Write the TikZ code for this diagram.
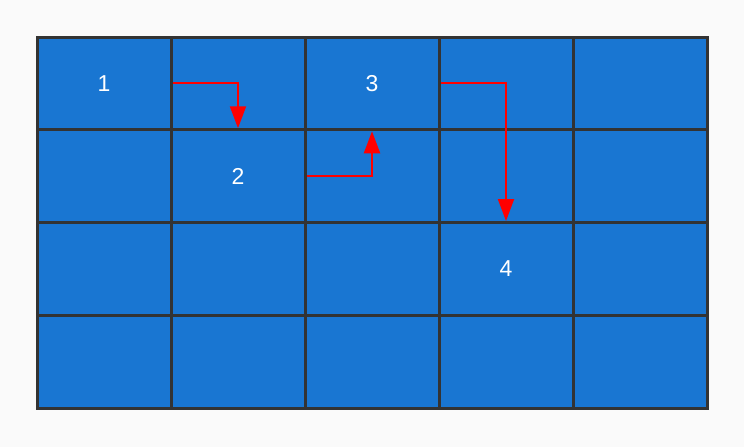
\documentclass[tikz,border=0pt]{standalone}
\usepackage{fontspec}
\setmainfont{Liberation Sans}
\usetikzlibrary{arrows.meta}

\definecolor{pagebg}{HTML}{FAFAFA}
\definecolor{cellblue}{HTML}{1976D2}
\definecolor{gridline}{HTML}{333333}
\definecolor{hopred}{HTML}{FF0000}

\tikzset{
  gridcell/.style={draw=gridline, line width=3pt, fill=cellblue,
    minimum width=134pt, minimum height=92.75pt, inner sep=0pt},
  numlabel/.style={text=white, font=\fontsize{23}{23}\selectfont},
  hop/.style={draw=hopred, line width=2pt,
    -{Triangle[width=16pt, length=22pt]}, hopred}
}

\begin{document}
\begin{tikzpicture}[x=1pt, y=-1pt]
  \fill[pagebg] (0,0) rectangle (744,447);
  \useasboundingbox (0,0) rectangle (744,447);

  % cells, row by row
  \foreach \r in {1,...,4} {
    \foreach \c in {1,...,5} {
      \node[gridcell] (c\r\c) at ({37+134*(\c-0.5)}, {37+92.75*(\r-0.5)}) {};
    }
  }

  % numbered cells
  \node[numlabel] (n1) at (c11) {1};
  \node[numlabel] (n2) at (c22) {2};
  \node[numlabel] (n3) at (c13) {3};
  \node[numlabel] (n4) at (c34) {4};

  % path between them
  \draw[hop] (c11.east) -| (c22.north);
  \draw[hop] (c22.east) -| (c13.south);
  \draw[hop] (c13.east) -| (c34.north);
\end{tikzpicture}
\end{document}
